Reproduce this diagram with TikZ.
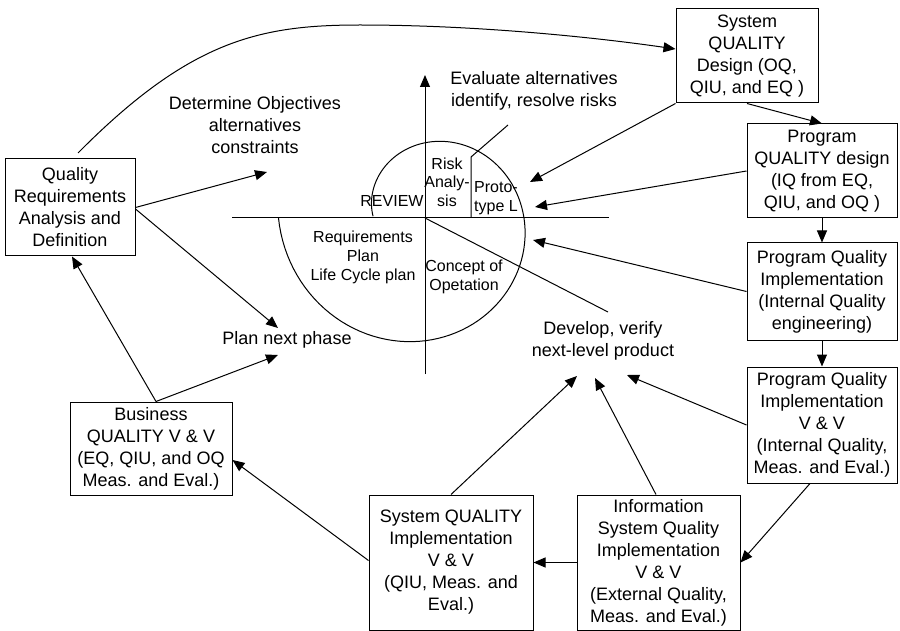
\documentclass[tikz,border=0pt]{standalone}
\usepackage{fontspec}
\setmainfont{Liberation Sans}
\usetikzlibrary{arrows.meta,calc}
\begin{document}
\begin{tikzpicture}[x=1pt,y=-1pt,
  line width=1pt,
  tip/.style={-{Triangle[length=12pt,width=10pt]}},
  box/.style={draw, align=center, inner sep=0pt, font=\fontsize{18}{22}\selectfont},
  lbl/.style={align=center, inner sep=0pt, font=\fontsize{18}{22}\selectfont},
  small/.style={align=center, inner sep=0pt, font=\fontsize{16}{19}\selectfont},
]
\useasboundingbox (0,0) rectangle (900,631);

% ---- process boxes ----
\node[box, minimum width=130pt, minimum height=97pt] (Q) at (70,207.5)
  {Quality\\Requirements\\Analysis and\\Definition};
\node[box, minimum width=142pt, minimum height=94pt] (S) at (747,56)
  {System\\QUALITY\\Design (OQ,\\QIU, and EQ )};
\node[box, minimum width=150pt, minimum height=94pt] (PD) at (822,171)
  {Program\\QUALITY design\\(IQ from EQ,\\QIU, and OQ )};
\node[box, minimum width=150pt, minimum height=97pt] (PQI) at (822,291.5)
  {Program Quality\\Implementation\\(Internal Quality\\engineering)};
\node[box, minimum width=150pt, minimum height=116pt] (PVV) at (822,425)
  {Program Quality\\Implementation\\V \& V\\(Internal Quality,\\Meas. and Eval.)};
\node[box, minimum width=163pt, minimum height=135pt] (INF) at (658.5,562.5)
  {Information\\System Quality\\Implementation\\V \& V\\(External Quality,\\Meas. and Eval.)};
\node[box, minimum width=164pt, minimum height=135pt] (SQI) at (451,562.5)
  {System QUALITY\\Implementation\\V \& V\\(QIU, Meas. and\\Eval.)};
\node[box, minimum width=162pt, minimum height=93pt] (B) at (151,448.5)
  {Business\\QUALITY V \& V\\(EQ, QIU, and OQ\\Meas. and Eval.)};

% ---- quadrant labels ----
\node[lbl] (DO) at (255,125.5) {Determine Objectives\\alternatives\\constraints};
\node[lbl] (EA) at (534,91) {Evaluate alternatives\\identify, resolve risks};
\node[lbl] (PN) at (287,340) {Plan next phase};
\node[lbl] (DV) at (603,341) {Develop, verify\\next-level product};

% ---- spiral axes ----
\coordinate (O) at (425,218);
\coordinate (axL) at (232,218);
\coordinate (axR) at (609,218);
\coordinate (axB) at (425,374);
\coordinate (axT) at (425,75);
\coordinate (diagEnd) at (608,312);
\draw (axL) -- (axR);
\draw[tip] (axB) -- (axT);
\draw (O) -- (diagEnd);

% spiral
\draw plot[domain=178:-180, samples=120, variable=\t]
  ({425+(52+0.264*(178-\t))*cos(\t)}, {218-(52+0.264*(178-\t))*sin(\t)});

% risk analysis divider and its leader
\coordinate (rkFoot) at (471,218);
\coordinate (rkTop) at (471,157);
\coordinate (rkLead) at (508,125);
\draw (rkFoot) -- (rkTop) -- (rkLead);

% ---- texts inside the spiral ----
\node[small] (RV) at (392,201) {REVIEW};
\node[small, font=\fontsize{16}{18.5}\selectfont] (RA) at (447,182) {Risk\\Analy-\\sis};
\node[small] (PT) at (496,198.5) {Proto-\\type L};
\node[small] (RQ) at (363,257) {Requirements\\Plan\\Life Cycle plan};
\node[small] (CO) at (464,276.5) {Concept of\\Opetation};

% ---- arrow targets ----
\coordinate (tDO) at (267,172);
\coordinate (tPN1) at (278,328);
\coordinate (tPN2) at (278,355);
\coordinate (tSp1) at (530,182);
\coordinate (tSp2) at (535,207);
\coordinate (tSp3) at (533,240);
\coordinate (tDV1) at (577,376);
\coordinate (tDV2) at (595,378);
\coordinate (tDV3) at (627,375);
\coordinate (qTop) at (78,153);
\coordinate (bTop) at ($(B.north)+(5,0)$);

% ---- connectors ----
\draw[tip] (Q.east) -- (tDO);
\draw[tip] ($(Q.east)+(0,1.5)$) -- (tPN1);
\draw[tip] (bTop) -- ($(Q.south)+(2,0)$);
\draw[tip] (bTop) -- (tPN2);
\draw[tip] (qTop) .. controls (190,40) and (260,25) .. (360,25)
  .. controls (480,25) and (600,38) .. ($(S.west)+(0,-7)$);
\draw[tip] (S.south west) -- (tSp1);
\draw[tip] (S.south) -- (PD.north);
\draw[tip] (PD.west) -- (tSp2);
\draw[tip] (PD.south) -- (PQI.north);
\draw[tip] (PQI.west) -- (tSp3);
\draw[tip] (PQI.south) -- (PVV.north);
\draw[tip] (PVV.west) -- (tDV3);
\draw[tip] ($(PVV.south)+(-12,0)$) -- (INF.east);
\draw[tip] ($(INF.north)+(-2.5,0)$) -- (tDV2);
\draw[tip] (INF.west) -- (SQI.east);
\draw[tip] (SQI.north) -- (tDV1);
\draw[tip] ($(SQI.west)+(0,-2)$) -- ($(B.east)+(0,11.5)$);
\end{tikzpicture}
\end{document}
